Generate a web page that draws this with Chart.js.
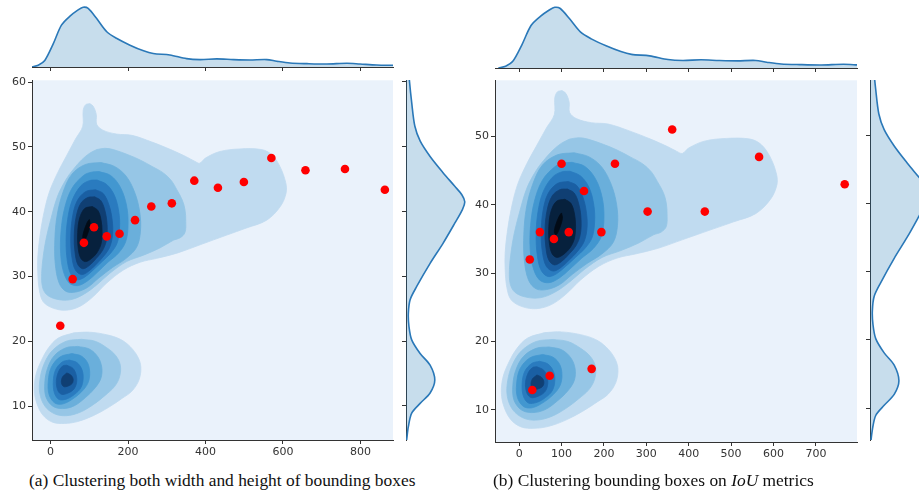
<!DOCTYPE html>
<html lang="en">
<head>
<meta charset="UTF-8" />
<title>Anchor box clustering - KDE joint plots</title>
<script src="https://cdn.jsdelivr.net/npm/chart.js"></script>
<style>
  body { margin: 0; background: #fff; width: 919px; height: 490px; position: relative; overflow: hidden; }
  canvas { position: absolute; }
  .cap { position: absolute; top: 470px; font-family: "Liberation Serif", "Times New Roman", serif; font-size: 17.4px; line-height: 20px; color: #111; white-space: nowrap; }
</style>
</head>
<body>
<canvas id="aTop" width="400" height="73" style="left:0;top:0"></canvas>
<canvas id="aMain" width="400" height="384" style="left:0;top:76px"></canvas>
<canvas id="aRight" width="75" height="384" style="left:398px;top:76px"></canvas>
<canvas id="bTop" width="405" height="74" style="left:460px;top:0"></canvas>
<canvas id="bMain" width="405" height="386" style="left:460px;top:76px"></canvas>
<canvas id="bRight" width="57" height="386" style="left:862px;top:76px"></canvas>
<div class="cap" style="left:29px">(a) Clustering both width and height of bounding boxes</div>
<div class="cap" style="left:493px">(b) Clustering bounding boxes on <i>IoU</i> metrics</div>

<script>
// tick labels
const xTicksA = [0, 200, 400, 600, 800];
const yTicksA = [10, 20, 30, 40, 50, 60];
const xTicksB = [0, 100, 200, 300, 400, 500, 600, 700];
const yTicksB = [10, 20, 30, 40, 50];

// cluster centres (width, height)
const anchorsA = [[25, 22.4], [57, 29.6], [86, 35.2], [112, 37.6], [145, 36.2], [178, 36.6], [218, 38.7], [260, 40.8],
  [313, 41.3], [371, 44.8], [432, 43.7], [499, 44.6], [570, 48.3], [658, 46.4], [760, 46.6], [863, 43.4]];
const anchorsB = [[31, 12.9], [72, 15], [171, 16], [25, 32], [82, 35], [49, 36], [117, 36], [194, 36],
  [303, 39], [438, 39], [153, 42], [100, 46], [226, 46], [361, 51], [566, 47], [768, 43]];

// KDE contour bands of the box sizes, outermost first
const upperLevels = [
  [[101, 56.7], [110, 56.3], [118, 55], [119, 53.5], [135, 52.6], [170, 52], [210, 51.8], [260, 50.8], [310, 49.6], [350, 48.5],
   [372, 47.8], [385, 47.5], [400, 48.3], [437, 49.3], [489, 49.7], [545, 49.6], [571, 48.8], [592, 47], [607, 44.5], [608, 42.9],
   [593, 40.8], [558, 38.7], [506, 37.5], [455, 36.4], [386, 34.9], [326, 33.6], [274, 32.8], [231, 32.2], [188, 31], [145, 29],
   [110, 26.9], [76, 25.4], [41, 24.8], [7, 25.1], [-19, 26.1], [-29, 27.9], [-33, 30.5], [-33, 33], [-28, 36], [-19, 39.3],
   [-4, 42.9], [18, 46], [40, 48.5], [64, 51.2], [83, 53.2], [84, 55.6], [90, 56.5]],
  [[119, 49.6], [140, 49.8], [162, 49.6], [200, 48.8], [231, 48], [262, 47], [291, 46], [312, 44.8], [326, 43.4], [340, 41.8],
   [347, 40.3], [349, 38.5], [347, 36.8], [335, 36], [317, 35.6], [282, 34.4], [240, 33.3], [196, 32.3], [153, 30.5], [119, 28.7],
   [84, 27.2], [50, 26.4], [15, 26.5], [-10, 27.2], [-21, 28.4], [-23, 30.5], [-19, 33.1], [-12, 35.7], [0, 38.7], [18, 42.4],
   [40, 45], [58, 46.5], [80, 48], [100, 49]],
  [[130, 47.6], [165, 47], [195, 45.5], [217, 43], [230, 40], [232, 37], [222, 34.5], [195, 32.8], [160, 31.4], [125, 29.8],
   [95, 28.3], [65, 27.6], [40, 27.7], [22, 29], [12, 32], [11, 35.7], [17, 39.5], [32, 43], [55, 45.8], [90, 47.3]],
  [[125, 46.2], [155, 45.6], [180, 43.8], [196, 41], [200, 38], [194, 35.4], [175, 33.6], [148, 32.2], [120, 30.6], [95, 29.3],
   [70, 28.6], [48, 29], [33, 30.8], [26, 33.5], [27, 37], [36, 40.5], [55, 43.6], [85, 45.6], [105, 46.1]],
  [[120, 44.9], [145, 44.2], [165, 42.5], [176, 40], [178, 37.5], [172, 35.2], [155, 33.6], [133, 32.3], [110, 31], [88, 29.9],
   [68, 29.5], [52, 30.4], [43, 32.5], [40, 35.5], [44, 38.8], [56, 41.8], [78, 44], [100, 44.8]],
  [[116, 43.4], [136, 42.8], [151, 41], [159, 38.7], [160, 36.5], [153, 34.6], [138, 33.2], [118, 31.9], [98, 30.8], [80, 30.3],
   [64, 31], [55, 33], [52, 35.8], [56, 39], [68, 41.6], [90, 43.1]],
  [[114, 42.3], [130, 41.7], [141, 40], [146, 37.8], [144, 35.6], [134, 34], [118, 32.8], [100, 31.7], [83, 31.2], [70, 31.9],
   [63, 33.8], [61, 36.3], [66, 39.2], [78, 41.3], [96, 42.2]],
  [[108, 40.8], [122, 40.2], [130, 38.8], [133, 36.8], [130, 35], [120, 33.7], [106, 32.8], [90, 32.3], [78, 32.8], [71, 34.5],
   [70, 36.8], [75, 39], [88, 40.5]],
  [[100, 38.8], [102, 38], [95, 36.5], [87, 35.6], [83, 36], [86, 37], [95, 38.4]]
];
const lowerLevels = [
  [[60, 21.3], [100, 21.4], [145, 21], [180, 20.3], [205, 19.2], [225, 17.6], [233, 16], [228, 14], [210, 12.3], [185, 11.2],
   [150, 9.8], [110, 8.5], [70, 7.6], [35, 7.3], [5, 7.5], [-20, 8.6], [-36, 10.5], [-42, 12.5], [-38, 14.8], [-24, 17],
   [-5, 19], [20, 20.5]],
  [[80, 20.3], [115, 20], [145, 19], [168, 17.8], [180, 16.3], [178, 14.5], [165, 13], [140, 11.6], [110, 10.2], [75, 9],
   [40, 8.5], [10, 8.8], [-15, 10], [-28, 12], [-27, 14.3], [-16, 16.6], [5, 18.6], [40, 20]],
  [[70, 19.2], [100, 18.8], [122, 17.6], [132, 16], [130, 14.3], [115, 12.8], [90, 11.3], [60, 10], [30, 9.6], [5, 10],
   [-12, 11.4], [-15, 13.5], [-8, 15.8], [10, 17.8], [40, 19]],
  [[55, 18.1], [80, 17.7], [96, 16.6], [101, 15], [96, 13.5], [80, 12.2], [55, 11], [30, 10.3], [10, 10.5], [-4, 11.8],
   [-6, 13.8], [2, 16], [25, 17.6]],
  [[48, 17.1], [68, 16.7], [81, 15.6], [84, 14.2], [78, 12.8], [62, 11.8], [42, 11.1], [22, 11], [10, 12], [7, 13.8],
   [13, 15.6], [30, 16.8]],
  [[42, 16.3], [58, 15.8], [66, 14.8], [67, 13.6], [60, 12.6], [45, 12], [28, 11.8], [18, 12.5], [15, 14], [22, 15.5], [32, 16.2]],
  [[42, 15.1], [52, 14.8], [58, 14.2], [56, 13.5], [46, 13.1], [34, 13], [28, 13.6], [31, 14.5]]
];
const levelColors = ["#c0dbf0", "#96c6e6", "#6aafdb", "#4297d0", "#2a7bbf", "#1a5fa3", "#103f73", "#07213d", "#020b16"];

// marginal densities (relative): [width, density] and [height, density]
const marginX = [[-49, 0], [-32, 0.03], [-15, 0.11], [7, 0.39], [28, 0.7], [50, 0.85], [71, 0.955], [84, 1], [97, 0.98],
  [119, 0.81], [145, 0.59], [170, 0.48], [205, 0.365], [240, 0.27], [265, 0.225], [308, 0.2], [351, 0.14], [386, 0.124],
  [429, 0.135], [472, 0.124], [515, 0.118], [558, 0.124], [584, 0.096], [618, 0.067], [662, 0.056], [713, 0.05],
  [765, 0.062], [799, 0.05], [842, 0.034], [884, 0.028]];
const marginY = [[4.7, 0.01], [6.8, 0.04], [8.9, 0.097], [10.4, 0.24], [12, 0.41], [14, 0.49], [16.3, 0.41], [18.1, 0.24],
  [20.2, 0.097], [22.3, 0.05], [24.3, 0.04], [26.4, 0.07], [28.4, 0.18], [32, 0.41], [35.1, 0.63], [38.2, 0.83], [40.3, 0.96],
  [41.5, 1], [42.6, 0.95], [43.9, 0.83], [46, 0.63], [48.5, 0.41], [50.9, 0.24], [53.2, 0.15], [56.8, 0.097], [60.4, 0.056],
  [62, 0.045]];

const axisColor = "#333";
const tickFont = { family: "DejaVu Sans", size: 11 };

const plotBg = {
  id: "plotBg",
  beforeDraw(chart, args, opts) {
    if (!opts.color) return;
    const { ctx, chartArea: a } = chart;
    ctx.save();
    ctx.fillStyle = opts.color;
    ctx.fillRect(a.left, a.top, a.right - a.left, a.bottom - a.top);
    ctx.restore();
  }
};

function fixedTicks(list) {
  return (scale) => { scale.ticks = list.map((v) => ({ value: v })); };
}

function axis(range, list, size, horizontal, labels) {
  return {
    type: "linear", min: range[0], max: range[1],
    afterBuildTicks: fixedTicks(list),
    afterFit: (s) => {
      if (horizontal) s.height = size; else s.width = size;
      // keep the plot box where it is, labels may overhang
      s.paddingTop = s.paddingBottom = s.paddingLeft = s.paddingRight = 0;
    },
    grid: { drawOnChartArea: false, tickLength: 4, color: axisColor, lineWidth: 1 },
    border: { display: true, color: axisColor, width: 1 },
    ticks: { display: labels, color: axisColor, font: tickFont, padding: labels ? 2 : 0, maxRotation: 0 }
  };
}

function contourSets() {
  const out = [];
  [upperLevels, lowerLevels].forEach((levels) => levels.forEach((ring, k) => {
    out.push({
      data: ring.concat([ring[0]]).map(([x, y]) => ({ x, y })),
      fill: "shape", backgroundColor: levelColors[k], borderColor: levelColors[k], borderWidth: 0.8,
      pointRadius: 0, tension: 0.35, order: 20 - k
    });
  }));
  return out;
}

function mainChart(id, xr, yr, xt, yt, anchors, yW, padR) {
  new Chart(document.getElementById(id), {
    type: "line",
    data: {
      datasets: [{
        data: anchors.map(([x, y]) => ({ x, y })), showLine: false,
        pointRadius: 4.3, pointBackgroundColor: "#ff0000", pointBorderWidth: 0, order: 0
      }].concat(contourSets())
    },
    options: {
      responsive: false, animation: false,
      layout: { padding: { top: 4, right: padR, left: 0, bottom: 0 } },
      plugins: { legend: { display: false }, tooltip: { enabled: false }, plotBg: { color: "#eaf2fb" } },
      scales: { x: axis(xr, xt, 20, true, true), y: axis(yr, yt, yW, false, true) }
    },
    plugins: [plotBg]
  });
}

function topMargin(id, xr, xt, padL, padR) {
  new Chart(document.getElementById(id), {
    type: "line",
    data: {
      datasets: [{
        data: marginX.map(([x, d]) => ({ x, y: d })), fill: "origin",
        backgroundColor: "rgba(31,119,180,0.25)", borderColor: "#2a78b8", borderWidth: 1.6, pointRadius: 0, tension: 0.3
      }]
    },
    options: {
      responsive: false, animation: false,
      layout: { padding: { top: 0, right: padR, left: padL, bottom: 0 } },
      plugins: { legend: { display: false }, tooltip: { enabled: false } },
      scales: { x: axis(xr, xt, 6, true, false), y: { type: "linear", display: false, min: 0, max: 1.12 } }
    }
  });
}

function rightMargin(id, yr, yt, dMax, padB) {
  new Chart(document.getElementById(id), {
    type: "line",
    data: {
      datasets: [{
        data: marginY.map(([y, d]) => ({ x: d, y })), fill: "origin", indexAxis: "y",
        backgroundColor: "rgba(31,119,180,0.25)", borderColor: "#2a78b8", borderWidth: 1.6, pointRadius: 0, tension: 0.3
      }]
    },
    options: {
      indexAxis: "y", responsive: false, animation: false,
      layout: { padding: { top: 4, right: 0, left: 0, bottom: padB } },
      plugins: { legend: { display: false }, tooltip: { enabled: false } },
      scales: { x: { type: "linear", display: false, min: 0, max: dMax }, y: axis(yr, yt, 8, false, false) }
    }
  });
}

const xRangeA = [-48, 884], yRangeA = [4.75, 60.3];
const xRangeB = [-57, 797], yRangeB = [5.3, 58.2];

mainChart("aMain", xRangeA, yRangeA, xTicksA, yTicksA, anchorsA, 32, 7);
topMargin("aTop", xRangeA, xTicksA, 32, 7);
rightMargin("aRight", yRangeA, yTicksA, 1.14, 20);

mainChart("bMain", xRangeB, yRangeB, xTicksB, yTicksB, anchorsB, 35, 8);
topMargin("bTop", xRangeB, xTicksB, 35, 8);
rightMargin("bRight", yRangeB, yTicksB, 0.83, 22);
</script>
</body>
</html>
